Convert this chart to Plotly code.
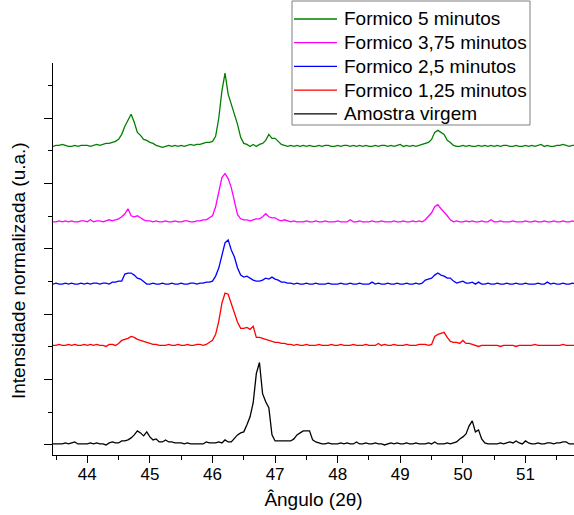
import numpy as np
import plotly.graph_objects as go

# Sampling grid of the diffractograms (2-theta, degrees)
ANGLE_START = 43.45
ANGLE_STEP = 0.05
N_POINTS = 168
angles = np.round(ANGLE_START + ANGLE_STEP * np.arange(N_POINTS), 2)

series_names = [
    "Formico 5 minutos",
    "Formico 3,75 minutos",
    "Formico 2,5 minutos",
    "Formico 1,25 minutos",
    "Amostra virgem",
]
series_colors = ["#008000", "#ff00ff", "#0000ff", "#ff0000", "#000000"]

# vertical offsets used to stack the normalized patterns (u.a.)
series_offsets = [297, 222, 160, 99, 1]

# intensities (u.a.), one value per grid angle
formico_5 = [
    0, 1, 1, 2, 1, 0, 0, 1, 0, 1,
    1, 1, 0, 1, 2, 1, 2, 3, 3, 4,
    5, 7, 12, 20, 26, 32, 24, 14, 11, 7,
    6, 4, 3, 1, 0, -1, 0, 1, 0, 1,
    0, 1, 0, 1, 2, 1, 2, 2, 3, 4,
    4, 5, 10, 28, 55, 73, 52, 42, 33, 22,
    9, 3, 2, 0, 2, 0, 2, 3, 6, 12,
    8, 8, 5, 2, 1, 0, 1, 0, 1, 0,
    1, 0, 1, 0, 0, 1, 0, 1, 1, 0,
    0, 1, 0, 1, 1, 0, 1, 0, 1, 0,
    1, 0, 0, 1, 0, 1, 1, 0, 1, 0,
    1, 2, 0, 1, 0, 1, 0, 1, 2, 3,
    4, 7, 14, 16, 14, 12, 6, 4, 1, 0,
    0, 1, 0, 1, 0, 0, 1, 0, 1, 0,
    1, 0, 1, 0, 1, 1, 0, 0, 1, 0,
    0, 1, 0, 1, 0, 1, 2, 0, 1, 0,
    0, 1, 1, 2, 1, 0, 1, 1,
]
formico_375 = [
    0, 0, 1, 0, 1, 0, 1, 0, 0, 1,
    1, 0, 2, 0, 1, 1, 0, 1, 2, 1,
    2, 3, 5, 8, 13, 6, 5, 6, 4, 2,
    1, 1, 0, 1, 0, 0, 1, 0, 0, 1,
    0, 0, 1, 1, 0, 0, 1, 1, 2, 2,
    4, 6, 15, 30, 44, 48, 43, 34, 20, 7,
    3, 2, 2, 1, 2, 3, 3, 5, 8, 5,
    4, 4, 2, 1, 2, 1, 0, 1, 0, 0,
    0, 1, 0, 0, 1, 0, 0, 1, 0, 0,
    0, 1, 0, 0, 0, 2, 0, 0, 1, 0,
    0, 0, 1, 0, 0, 1, 0, 0, 0, 1,
    0, 0, 1, 0, 0, 1, 0, 1, 0, 2,
    5, 9, 15, 17, 13, 10, 6, 2, 0, 1,
    0, 0, 1, 0, 1, 0, 0, 1, 0, 0,
    2, 0, 0, 1, 0, 0, 0, 1, 0, 0,
    0, 1, 0, 0, 1, 0, 0, 1, 0, 0,
    1, 0, 0, 1, 0, 0, 1, 0,
]
formico_25 = [
    0, 1, 0, 0, 1, 0, 1, 0, 0, 1,
    0, 1, 0, 1, 1, 0, 1, 1, 0, 2,
    2, 3, 3, 10, 11, 11, 9, 6, 5, 2,
    0, 0, 1, 0, 0, 1, 0, 0, 1, 0,
    0, 1, 0, 0, 1, 1, 0, 1, 1, 2,
    2, 3, 8, 16, 29, 41, 44, 34, 27, 16,
    9, 7, 8, 6, 4, 3, 3, 4, 6, 5,
    7, 5, 4, 2, 2, 1, 1, 0, 1, 0,
    0, 1, 0, 0, 1, 0, 0, 0, 1, 0,
    0, 0, 1, 0, 0, 1, 0, 0, 1, 0,
    0, 0, 2, 0, 1, 0, 0, 1, 0, 0,
    1, 0, 0, 1, 0, 0, 1, 0, 1, 4,
    5, 6, 9, 11, 9, 8, 6, 6, 3, 1,
    2, 3, 1, 1, 2, 0, 2, 0, 0, 1,
    0, 0, 1, 0, 0, 1, 0, 0, 1, 0,
    0, 1, 0, 0, 0, 1, 0, 0, 2, 0,
    1, 0, 0, 1, 0, 0, 1, 0,
]
formico_125 = [
    0, 0, 1, 0, 0, 1, 0, 1, 0, 0,
    1, 0, 1, 0, 1, 0, 0, -1, 1, 1,
    0, 2, 5, 6, 7, 9, 8, 6, 5, 4,
    3, 2, 1, 1, 0, 0, 0, 1, 0, 0,
    1, 0, 0, 1, 0, 0, 1, 1, 0, 1,
    3, 5, 11, 24, 42, 52, 51, 41, 32, 23,
    17, 17, 18, 16, 19, 8, 8, 7, 6, 5,
    4, 3, 3, 2, 2, 1, 1, 0, 1, 0,
    0, 1, 0, 0, 0, 1, 0, 0, 0, 1,
    0, 0, 1, 0, 0, 0, 1, 0, 0, 0,
    1, 0, 0, 0, 2, 0, 1, 0, 0, 1,
    0, 0, 0, 1, 0, 0, 0, 1, 1, 1,
    0, 1, 9, 11, 12, 13, 8, 4, 3, 3,
    2, 5, 2, 2, 1, 0, -1, 0, 0, 0,
    0, 0, 0, -1, 0, 0, 0, 0, -1, 0,
    0, 0, 0, 0, 1, 0, 0, 0, 0, 0,
    0, 0, 0, 1, 0, 0, 0, 0,
]
amostra_virgem = [
    0, 0, 0, 0, 1, 0, 1, 2, 0, 0,
    0, 0, 1, 0, 1, 0, 0, -1, 1, 2,
    1, 1, 3, 3, 4, 6, 9, 13, 11, 8,
    12, 7, 4, 5, 2, 2, 4, 2, 2, 1,
    1, 1, 0, 1, 0, 0, 0, 0, 0, 2,
    1, 1, 1, 2, 1, 4, 2, 2, 6, 9,
    11, 12, 19, 27, 41, 70, 81, 50, 42, 36,
    9, 3, 3, 3, 3, 3, 3, 5, 9, 11,
    13, 13, 13, 4, 2, 1, 0, 0, 1, 0,
    0, 0, 1, 0, 1, 0, 0, 2, 0, 0,
    1, 0, 0, 1, 0, 0, -1, 0, 1, 0,
    1, 0, 0, 1, 0, 0, 1, 0, 0, 0,
    1, 0, 2, 0, 0, 0, 1, 0, 1, 2,
    5, 7, 10, 18, 23, 12, 14, 5, 1, 0,
    0, 0, 0, 1, 0, 1, 2, 1, 3, 1,
    0, 3, 1, 0, 0, 1, 0, 0, 1, 1,
    0, 1, 1, 2, 2, 0, 0, 0,
]

series_values = [formico_5, formico_375, formico_25, formico_125, amostra_virgem]

FONT = "Liberation Sans, Arial, sans-serif"
W, H = 574, 515
ML, MR, MT, MB = 53, 0, 63, 60
PW, PH = W - ML - MR, H - MT - MB


def px_x(px):
    return (px - ML) / PW


def px_y(py):
    return (H - MB - py) / PH


fig = go.Figure()
for name, color, offset, vals in zip(series_names, series_colors, series_offsets, series_values):
    fig.add_trace(go.Scatter(
        x=angles,
        y=np.array(vals, dtype=float) + offset,
        mode="lines",
        name=name,
        line=dict(color=color, width=1.3),
        showlegend=False,
    ))

# Legend box (drawn by hand to match the original spacing)
shapes = [dict(type="rect", xref="paper", yref="paper",
               x0=px_x(292), x1=px_x(530), y0=px_y(125), y1=px_y(1),
               line=dict(color="#7f7f7f", width=1), fillcolor="white", layer="above")]
annotations = []
for k, (name, color) in enumerate(zip(series_names, series_colors)):
    yy = 19 + 23.7 * k
    shapes.append(dict(type="line", xref="paper", yref="paper",
                       x0=px_x(294), x1=px_x(337), y0=px_y(yy), y1=px_y(yy),
                       line=dict(color=color, width=1.3), layer="above"))
    annotations.append(dict(text=name, xref="paper", yref="paper",
                            x=px_x(342), y=px_y(yy), xanchor="left", yanchor="middle",
                            showarrow=False, font=dict(family=FONT, size=19, color="black")))

annotations.append(dict(text="Intensidade normalizada (u.a.)", xref="paper", yref="paper",
                        x=px_x(18), y=px_y(271), xanchor="center", yanchor="middle",
                        textangle=-90, showarrow=False,
                        font=dict(family=FONT, size=19, color="black")))

fig.update_layout(
    width=W,
    height=H,
    margin=dict(l=ML, r=MR, t=MT, b=MB),
    paper_bgcolor="white",
    plot_bgcolor="white",
    font=dict(family=FONT, size=17, color="black"),
    showlegend=False,
    shapes=shapes,
    annotations=annotations,
    xaxis=dict(
        range=[43.452, 51.775],
        tickmode="linear", tick0=44, dtick=1,
        ticks="outside", ticklen=7, tickwidth=1.3, tickcolor="black",
        ticklabelstandoff=-4,
        showline=True, linecolor="black", linewidth=1.3,
        showgrid=False, zeroline=False,
        minor=dict(dtick=0.5, tick0=44, ticks="outside", ticklen=4,
                   tickwidth=1.3, tickcolor="black", showgrid=False),
        tickfont=dict(family=FONT, size=17, color="black"),
        title=dict(text="Ângulo (2θ)", font=dict(family=FONT, size=19, color="black"), standoff=10),
    ),
    yaxis=dict(
        range=[-10, 380],
        tickmode="linear", tick0=0, dtick=65,
        showticklabels=False,
        ticks="outside", ticklen=8, tickwidth=1.3, tickcolor="black",
        showline=True, linecolor="black", linewidth=1.3,
        showgrid=False, zeroline=False,
        minor=dict(dtick=32.5, tick0=0, ticks="outside", ticklen=4,
                   tickwidth=1.3, tickcolor="black", showgrid=False),
    ),
)

fig.write_html("out.html")
